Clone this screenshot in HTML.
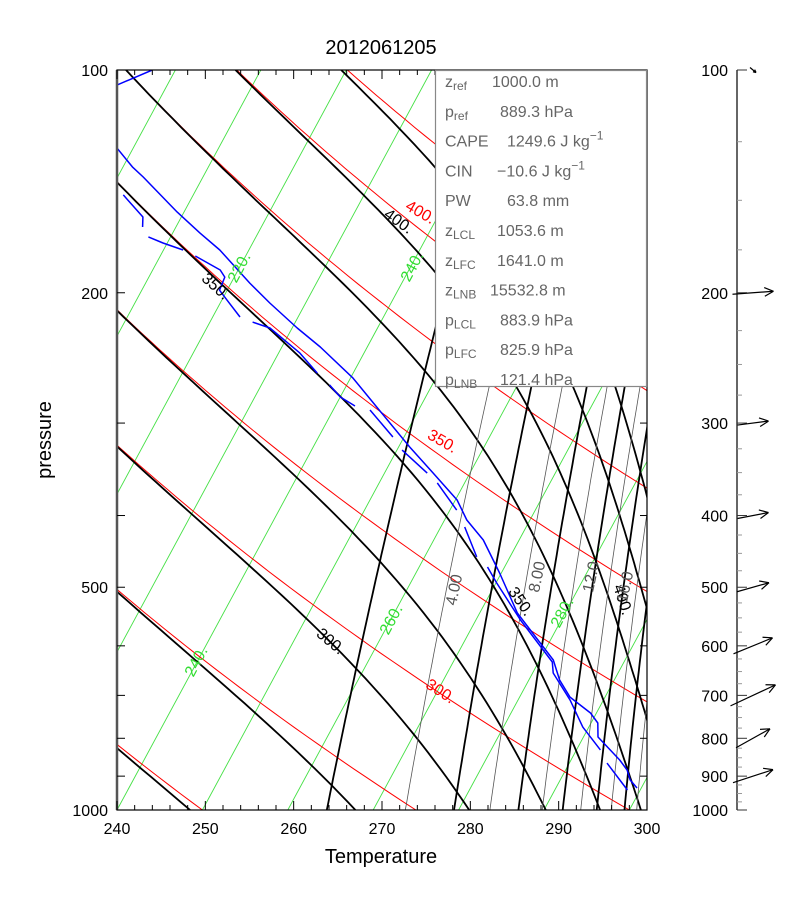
<!DOCTYPE html>
<html><head><meta charset="utf-8"><style>
html,body{margin:0;padding:0;background:#fff;}
svg{display:block;font-family:"Liberation Sans",sans-serif;}
</style></head><body>
<svg id="chart" width="810" height="910" viewBox="0 0 810 910" xmlns="http://www.w3.org/2000/svg">
<defs><clipPath id="plotclip"><rect x="117" y="70" width="530" height="740"/></clipPath></defs>
<rect x="0" y="0" width="810" height="910" fill="#fff"/>
<g id="grid" clip-path="url(#plotclip)"></g>
<g id="sounding" clip-path="url(#plotclip)"></g>
<g id="labels"></g>
<g id="axes"></g>
<g id="winds"></g>
<text x="381" y="54" font-size="20" text-anchor="middle">2012061205</text>
<text x="381" y="863" font-size="20" text-anchor="middle">Temperature</text>
<text x="0" y="0" font-size="20" text-anchor="middle" transform="translate(51,440) rotate(-90)">pressure</text>
<g id="infobox">
<rect x="435.5" y="70.5" width="211" height="316" fill="#fff" stroke="#888" stroke-width="1.2"/>
</g>
</svg>
<script>
// ---- sounding data (pressure hPa, temperature K); null = break ----
const tempP = [104.8,100,null,127.5,135.2,139.5,155.6,166.1,175.1,194.1,206.5,223.2,236.8,260.8,285.4,323.2,350.5,381.1,405.6,431.6,478.3,541.6,571.2,627.1,667.4,703.7,739.4,762.9,796.8,855.8,883.1,910.9,933.8];
const tempT = [194.1,197.3,null,198.1,201.1,203.0,209.2,213.2,216.6,222.2,225.8,230.6,234.5,240.3,244.9,251.3,255.7,260.2,262.6,265.8,269.8,274.4,277.0,281.6,283.6,285.9,289.3,290.8,291.7,295.7,297.2,298.2,299.5];
const dewP = [147.5,158,163,null,168.1,171.3,175.1,null,178.4,186.3,190.5,198.4,204.6,215.7,null,219.1,223.2,241.3,256.8,null,266.5,276.6,284.5,null,288.0,313.3,null,326.3,350.5,null,361.4,393.3,null,414.6,455,null,469.5,493.5,553.5,631,652.9,710.3,772.6,829.5,null,864.1,939.7];
const dewT = [201.8,205.5,206.1,null,207.4,209.5,212.3,null,214.1,217.9,218.9,219.1,220.6,223.2,null,225.0,227.4,232.5,235.8,null,238.0,240.0,242.3,null,244.3,248.7,null,250.6,255.0,null,256.8,260.8,null,262.8,266.1,null,268.0,270.1,275.2,281.6,282.4,286.1,289.3,292.8,null,294.4,298.5];
// ---- wind data (pressure, u, v) ----
const windP = [100,200,300,400,500,600,700,800,900];
const windU = [3,20.5,15.5,15.5,16,19.5,22.5,17,20];
const windV = [-2.5,1.5,2,3,4.5,8,10.5,9.5,6.5];
// ---- grid families ----
const isotherms = [150,160,170,180,190,200,210,220,230,240,250,260,270,280,290,300];
const thetaVals = [225,250,275,300,325,350,375,400,425,450,475,500];
const thetaEVals = [225,250,275,300,325,350,375,400,425,450,475,500];
const mixThick = [2,6,10,14,18,22,26];
const mixThin = [4,8,12,16,20,24];
const xTickLabels = [240,250,260,270,280,290,300];
const yTickLabels = [100,200,500,1000];
const windTickLabels = [100,200,300,400,500,600,700,800,900,1000];
const info = [["z","ref","1000.0 m",492],["p","ref","889.3 hPa",500],["CAPE","","1249.6 J kg",507,"−1"],["CIN","","−10.6 J kg",497,"−1"],["PW","","63.8 mm",507],["z","LCL","1053.6 m",497],["z","LFC","1641.0 m",497],["z","LNB","15532.8 m",490],["p","LCL","883.9 hPa",500],["p","LFC","825.9 hPa",500],["p","LNB","121.4 hPa",500]];

const NS="http://www.w3.org/2000/svg";
function ys(p){return 70+740*Math.log10(p/100);}
function xs(T,p){return 117+8.54*(T-240)+400*Math.log10(1000/p);}
function xAxis(T){return 117+(T-240)*530/60;}
function es(Tc){return 6.112*Math.exp(17.67*Tc/(Tc+243.5));}
function thetaE(T,p){const e=es(T-273.15);const r=622*e/(p-e);const th=T*Math.pow(1000/p,0.2857);return th*Math.exp((3376/T-2.54)*r*(1+0.00081*r)/1000);}
function mk(tag,attrs,parent){const el=document.createElementNS(NS,tag);for(const k in attrs)el.setAttribute(k,attrs[k]);parent.appendChild(el);return el;}
const pLevels=[];for(let i=0;i<=90;i++){pLevels.push(100*Math.pow(10,i/90));}

const grid=document.getElementById('grid');
isotherms.forEach(T=>{const el=mk('line',{x1:xs(T,1000),y1:ys(1000),x2:xs(T,100),y2:ys(100),stroke:'#44e044','stroke-width':0.9},grid);

});
thetaVals.forEach(th=>{const pts=pLevels.map(p=>{const T=th*Math.pow(p/1000,0.2857);return xs(T,p).toFixed(1)+','+ys(p).toFixed(1);});
const el=mk('polyline',{points:pts.join(' '),fill:'none',stroke:'#ff0000','stroke-width':1},grid);

});
thetaEVals.forEach(te=>{const pts=[];pLevels.forEach(p=>{let lo=120,hi=340;for(let k=0;k<50;k++){const m=(lo+hi)/2;if(thetaE(m,p)>te)hi=m;else lo=m;}const T=(lo+hi)/2;if(T<335)pts.push(xs(T,p).toFixed(1)+','+ys(p).toFixed(1));});
const el=mk('polyline',{points:pts.join(' '),fill:'none',stroke:'#000','stroke-width':1.8},grid);

});
function mixLine(w,thick){const pts=[];pLevels.forEach(p=>{if(p<150)return;const e=w*p/(622+w);const L=Math.log(e/6.112);const Tc=243.5*L/(17.67-L);pts.push(xs(Tc+273.15,p).toFixed(1)+','+ys(p).toFixed(1));});
const el=mk('polyline',{points:pts.join(' '),fill:'none',stroke:thick?'#000':'#555','stroke-width':thick?1.8:0.8},grid);

}
mixThick.forEach(w=>mixLine(w,true));
mixThin.forEach(w=>mixLine(w,false));

const snd=document.getElementById('sounding');
function series(P,T,name){let segs=[],cur=[];P.forEach((p,i)=>{if(p===null){if(cur.length)segs.push(cur);cur=[];}else cur.push(xs(T[i],p).toFixed(1)+','+ys(p).toFixed(1));});if(cur.length)segs.push(cur);
segs.forEach((s,j)=>{const el=mk('polyline',{points:s.join(' '),fill:'none',stroke:'#0000ff','stroke-width':1.5,'stroke-linejoin':'round'},snd);

});}
series(tempP,tempT,'temperature-line');
series(dewP,dewT,'dewpoint-line');

// labels on grid lines
const lab=document.getElementById('labels');
const gl=[["240.",197,662,-62,'#33dd33'],["240.",413,267,-62,'#33dd33'],["220.",240,268,-62,'#33dd33'],["260.",392,620,-62,'#33dd33'],["280.",563,613,-62,'#33dd33'],
["300.",440,692,33,'#ff0000'],["350.",442,442,30,'#ff0000'],["400.",420,213,30,'#ff0000'],
["300.",330,642,40,'#000'],["350.",215,287,42,'#000'],["350.",520,602,55,'#000'],["400.",398,222,35,'#000'],["400.",622,600,72,'#000'],
["4.00",455,590,-78,'#555'],["8.00",538,577,-78,'#555'],["12.0",592,577,-78,'#555'],["16.0",626,587,-78,'#555']];
gl.forEach(g=>{const el=mk('text',{x:0,y:0,'font-size':16,fill:g[4],'text-anchor':'middle','dominant-baseline':'middle',transform:'translate('+g[1]+','+g[2]+') rotate('+g[3]+')'},lab);el.textContent=g[0];
 
});

// axes
const ax=document.getElementById('axes');
mk('rect',{x:117,y:70,width:530,height:740,fill:'none',stroke:'#000','stroke-width':1.2},ax);
mk('line',{x1:117,y1:70,x2:117,y2:810,stroke:'#555','stroke-width':2.5},ax);
for(let T=240;T<=300;T+=2){const x=xAxis(T);const len=(T%10===0)?9:5;
mk('line',{x1:x,y1:810,x2:x,y2:810-len,stroke:'#000','stroke-width':1},ax);
mk('line',{x1:x,y1:70,x2:x,y2:70+len,stroke:'#000','stroke-width':1},ax);}
xTickLabels.forEach(T=>{const el=mk('text',{x:xAxis(T),y:834,'font-size':16,'text-anchor':'middle'},ax);el.textContent=T;

});
for(let p=100;p<=1000;p+=100){const y=ys(p);mk('line',{x1:117,y1:y,x2:125,y2:y,stroke:'#000'},ax);mk('line',{x1:647,y1:y,x2:640,y2:y,stroke:'#000'},ax);}
yTickLabels.forEach(p=>{const el=mk('text',{x:108,y:ys(p)+6,'font-size':16,'text-anchor':'end'},ax);el.textContent=p;

});

// wind panel
const wd=document.getElementById('winds');
mk('line',{x1:737,y1:70,x2:737,y2:810,stroke:'#333','stroke-width':1.5},wd);
for(let p=100;p<=1000;p+=25){const y=ys(p);const major=(p%100===0);mk('line',{x1:737,y1:y,x2:major?747:742,y2:y,stroke:major?'#333':'#999','stroke-width':1},wd);}
windTickLabels.forEach(p=>{const el=mk('text',{x:728,y:ys(p)+6,'font-size':16,'text-anchor':'end'},wd);el.textContent=p;

});
windP.forEach((p,i)=>{const cx=753,cy=ys(p);const dx=windU[i]*2,dy=-windV[i]*2;
const x1=cx-dx/2,y1=cy-dy/2,x2=cx+dx/2,y2=cy+dy/2;const g=mk('g',{},wd);


mk('line',{x1:x1,y1:y1,x2:x2,y2:y2,stroke:'#000','stroke-width':1.2},g);
const a=Math.atan2(dy,dx);const hl=Math.min(10,Math.hypot(dx,dy)*0.4);
[0.45,-0.45].forEach(s=>{mk('line',{x1:x2,y1:y2,x2:x2-hl*Math.cos(a+s),y2:y2-hl*Math.sin(a+s),stroke:'#000','stroke-width':1.2},g);});});

// info box
const ib=document.getElementById('infobox');
info.forEach((r,i)=>{const y=87+29.8*i;
const t=mk('text',{x:445,y:y,'font-size':16,fill:'#666'},ib);t.textContent=r[0];


if(r[1]){const s=mk('tspan',{'font-size':12,dy:3},t);s.textContent=r[1];}
const v=mk('text',{x:r[3],y:y,'font-size':16,fill:'#666'},ib);v.textContent=r[2];


if(r[4]){const s=mk('tspan',{'font-size':12,dy:-7},v);s.textContent=r[4];}});
</script>
</body></html>
